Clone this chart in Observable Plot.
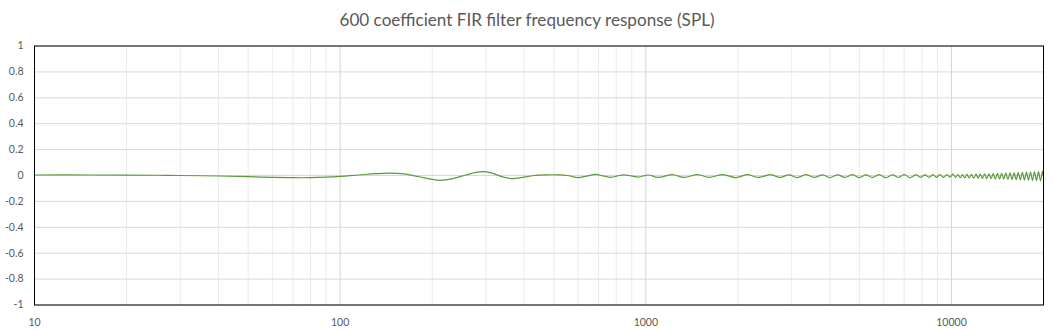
<!DOCTYPE html>
<html><head><meta charset="utf-8">
<script src="https://cdn.jsdelivr.net/npm/d3@7"></script>
<script src="https://cdn.jsdelivr.net/npm/@observablehq/plot@0.6"></script>
<style>
body{margin:0;background:#fff;font-family:Lato,"Liberation Sans",sans-serif;}
#title{height:36px;line-height:40px;text-align:center;font-size:16px;color:#595959;white-space:nowrap;overflow:visible;}
#title span{display:inline-block;}
</style></head><body>
<div id="title"><span id="tt">600 coefficient FIR filter frequency response (SPL)</span></div>
<div id="chart"></div>
<script>
// Frequency (Hz) and response values
const freq = [10,15,20,25,30,40,50,60,70,80,90,100,115,130,146,162,180,198,213,232,258,278,293,312,340,367,395,430,470,520,560,600,640,686,725,768,808,847,895,942,1023,
1092,1223,1335,1477,1611,1783,1971,2152,2321,2566,2746,2938,3132,3339,3555,3787,4004,4242,4482,4750,4992,5251,5523,5804,6105,6421,6708,7008,7316,7654,7918,8191,8442,8700,8932,9171,9417,9667,9888,
10114,10306,10502,10682,10864,11050,11239,11431,11627,11826,12028,12225,12424,12627,12834,13044,13257,13474,13694,13913,14135,14360,14590,14823,15059,15300,15544,15786,16032,16282,16536,16794,17056,17322,17592,17859,18131,18406,18686,18971,19258,19543,19843,20000];
const spl = [0.004,0.004,0.003,0.002,0.000,-0.004,-0.009,-0.014,-0.017,-0.017,-0.013,-0.007,0.004,0.014,0.019,0.012,-0.008,-0.028,-0.037,-0.026,0.004,0.024,0.030,0.020,-0.010,-0.024,-0.014,0.000,0.005,0.005,-0.002,-0.016,-0.005,0.009,-0.003,-0.014,-0.003,0.005,-0.003,-0.012,0.004,
-0.015,0.006,-0.015,0.007,-0.015,0.007,-0.016,0.006,-0.015,0.006,-0.015,0.005,-0.016,0.006,-0.015,0.005,-0.016,0.005,-0.015,0.006,-0.016,0.005,-0.015,0.006,-0.016,0.005,-0.015,0.006,-0.016,0.005,-0.014,0.005,-0.014,0.006,-0.014,0.006,-0.015,0.007,-0.013,
0.010,-0.014,0.006,-0.017,0.007,-0.018,0.008,-0.019,0.009,-0.020,0.010,-0.021,0.011,-0.022,0.012,-0.024,0.013,-0.025,0.014,-0.026,0.016,-0.027,0.017,-0.028,0.018,-0.030,0.020,-0.031,0.021,-0.032,0.023,-0.034,0.024,-0.035,0.026,-0.036,0.027,-0.038,0.029,-0.039,0.030,-0.041,0.032,-0.010];

const xTickValues = [10, 100, 1000, 10000];
const xMinorValues = [20,30,40,50,60,70,80,90,200,300,400,500,600,700,800,900,2000,3000,4000,5000,6000,7000,8000,9000];
const yTickValues = [1, 0.8, 0.6, 0.4, 0.2, 0, -0.2, -0.4, -0.6, -0.8, -1];

const data = freq.map((f, i) => ({f, v: spl[i]}));

const chart = Plot.plot({
  width: 1054, height: 294,
  marginTop: 9.5, marginBottom: 25.5, marginLeft: 34, marginRight: 11,
  x: {type: "log", domain: [10, 20000]},
  y: {domain: [-1, 1]},
  style: {fontFamily: "Lato, 'Liberation Sans', sans-serif", fontSize: "10.5px", color: "#595959", background: "white"},
  marks: [
    Plot.gridX(xMinorValues, {stroke: "#ececec", strokeOpacity: 1}),
    Plot.gridX(xTickValues, {stroke: "#d4d4d4", strokeOpacity: 1}),
    Plot.gridY(yTickValues, {stroke: "#d9d9d9", strokeOpacity: 1}),
    Plot.line(data, {x: "f", y: "v", stroke: "#5b9a3c", strokeWidth: 1.2, curve: "catmull-rom"}),
    Plot.frame({stroke: "black", strokeWidth: 1}),
    Plot.axisX(xTickValues, {tickSize: 0, tickPadding: 14, tickFormat: d => String(d), fill: "#595959", label: null}),
    Plot.axisY(yTickValues, {tickSize: 0, tickPadding: 11, tickFormat: d => String(d), fill: "#595959", label: null})
  ]
});
document.getElementById("chart").appendChild(chart);

// fit title width to the reference (~375px)
const tt = document.getElementById("tt");
const w = tt.getBoundingClientRect().width;
if (w > 0) tt.style.fontSize = (16 * 375 / w).toFixed(2) + "px";
</script>
</body></html>
